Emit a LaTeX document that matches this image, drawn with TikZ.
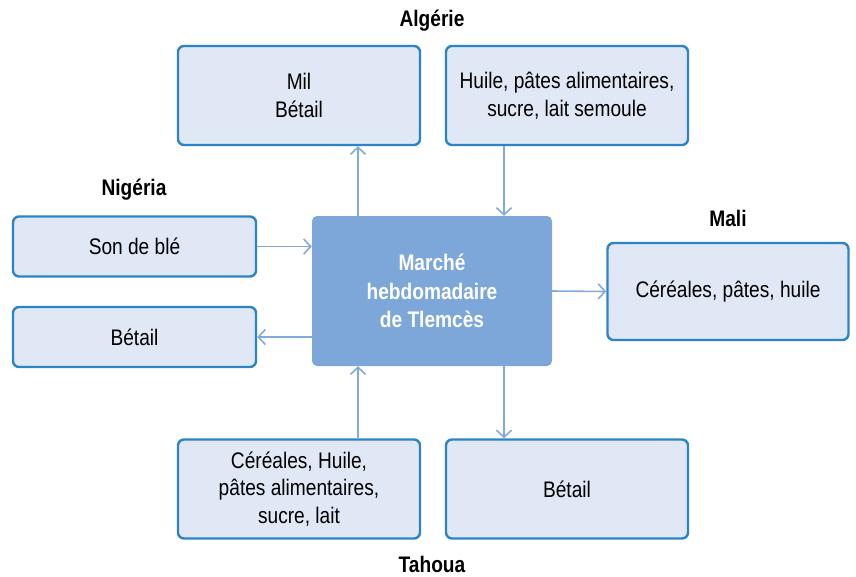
\documentclass[tikz,border=0pt]{standalone}
\usepackage{fontspec}
\setmainfont{Liberation Sans}[FakeStretch=0.85]
\usepackage{xcolor}
\usepackage{tikz}
\usetikzlibrary{arrows.meta}

\definecolor{boxfill}{HTML}{E1E8F5}
\definecolor{boxline}{HTML}{2B84C6}
\definecolor{hubfill}{HTML}{7DA7D9}
\definecolor{flowline}{HTML}{82AADD}

\begin{document}
\begin{tikzpicture}[x=1pt, y=-1pt]
    % Define styles
    \tikzstyle{goods} = [rectangle, rounded corners=6pt, minimum width=242pt, minimum height=99pt, align=center, draw=boxline, line width=2.4pt, fill=boxfill, font=\fontsize{22.5}{27.5}\selectfont]
    \tikzstyle{goodsflat} = [goods, minimum width=243pt, minimum height=60pt]
    \tikzstyle{hub} = [rectangle, rounded corners=5pt, minimum width=240pt, minimum height=150pt, align=center, fill=hubfill, text=white, font=\fontsize{22.5}{28.5}\selectfont\bfseries]
    \tikzstyle{country} = [font=\fontsize{22.5}{27.5}\selectfont\bfseries]
    \tikzstyle{arrow} = [line width=1.6pt, draw=flowline, -{Straight Barb[length=7pt, width=15pt, line width=1.6pt]}]

    \useasboundingbox (0,0) rectangle (856,576);

    % Nodes
    \node (marche) [hub] at (432,291) {Marché\\hebdomadaire\\de Tlemcès};

    \node (milbox) [goods] at (299,95.5) {Mil\\Bétail};
    \node (huilebox) [goods] at (567,95.5) {Huile, pâtes alimentaires,\\sucre, lait semoule};
    \node (algerie) [country] at (432,21) {Algérie};

    \node (sonbox) [goodsflat] at (134.5,246.5) {Son de blé};
    \node (betailwest) [goodsflat] at (134.5,337) {Bétail};
    \node (nigeria) [country] at (134,190) {Nigéria};

    \node (malibox) [goods, minimum width=241pt, minimum height=97pt] at (728,291.5) {Céréales, pâtes, huile};
    \node (mali) [country] at (728,218) {Mali};

    \node (cerealbox) [goods] at (299,489) {Céréales, Huile,\\pâtes alimentaires,\\sucre, lait};
    \node (betailsouth) [goods] at (567,489) {Bétail};
    \node (tahoua) [country] at (432,564) {Tahoua};

    % Arrows
    \draw [arrow] ([xshift=-74pt]marche.north) -- ([xshift=-74pt]marche.north |- milbox.south);
    \draw [arrow] ([xshift=72pt]marche.north |- huilebox.south) -- ([xshift=72pt]marche.north);

    \draw [arrow] (sonbox.east) -- (sonbox.east -| marche.west);
    \draw [arrow] (betailwest.east -| marche.west) -- (betailwest.east);
    \draw [arrow] (marche.east) -- (malibox.west);

    \draw [arrow] ([xshift=-74pt]marche.south |- cerealbox.north) -- ([xshift=-74pt]marche.south);
    \draw [arrow] ([xshift=72pt]marche.south) -- ([xshift=72pt]marche.south |- betailsouth.north);
\end{tikzpicture}
\end{document}
